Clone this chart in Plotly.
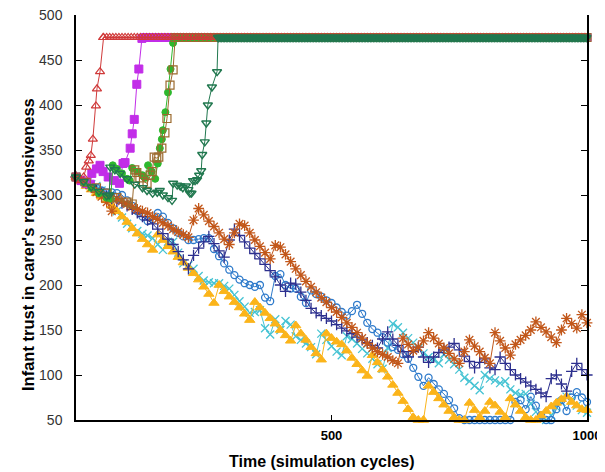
import plotly.graph_objects as go

# ---------------- data ----------------
PLATEAU = 475
X_STEP10 = list(range(0, 1001, 10))

# rising series (x, y until they reach the plateau)
red_x = [0, 5, 10, 15, 20, 25, 29, 33, 39, 41, 47, 53]
red_y = [320, 318, 316, 320, 331, 338, 344, 362, 399, 418, 437, 475]

magenta_x = [0, 10, 20, 28, 31, 40, 47, 53, 63, 75, 85, 92, 96, 106, 110, 114, 119, 123, 129]
magenta_y = [320, 316, 313, 312, 324, 329, 333, 326, 320, 316, 313, 335, 336, 352, 368, 384, 423, 440, 474]

green_x = [0, 15, 30, 45, 60, 68, 72, 80, 90, 100, 105, 110, 120, 130, 135, 141, 148, 155, 160, 164, 168, 170, 175, 180, 185, 190, 193]
green_y = [320, 314, 308, 302, 297, 296, 333, 329, 324, 318, 316, 330, 326, 322, 319, 333, 326, 318, 335, 352, 362, 372, 392, 414, 440, 469, 475]

brown_x = [0, 20, 40, 60, 80, 100, 110, 115, 119, 125, 132, 139, 145, 149, 153, 158, 162, 168, 174, 178, 184, 190, 194]
brown_y = [320, 314, 308, 302, 297, 292, 290, 328, 325, 319, 315, 313, 322, 326, 342, 341, 342, 352, 369, 385, 422, 439, 475]

dgreen_x = [0, 15, 30, 45, 60, 65, 67, 76, 86, 100, 115, 130, 139, 150, 159, 164, 170, 180, 188, 190, 198, 204, 209, 215, 220, 223, 226, 229, 233, 237, 241, 245, 247, 252, 255, 258, 266, 276, 278]
dgreen_y = [320, 315, 309, 304, 299, 300, 331, 328, 324, 318, 312, 308, 305, 302, 303, 305, 300, 297, 294, 313, 311, 310, 308, 310, 306, 302, 302, 316, 316, 317, 322, 327, 345, 359, 380, 400, 420, 437, 475]

# declining series, sampled every 10 cycles
orange_y = [320, 316, 312, 308, 303, 298, 292, 282, 296, 293, 290, 287, 284, 282, 280, 276, 273, 269, 266, 262,
            259, 256, 253, 272, 285, 278, 271, 265, 258, 251, 245, 258, 268, 266, 258, 250, 243, 236, 229, 244,
            242, 234, 226, 218, 211, 204, 198, 192, 186, 181, 175, 170, 164, 158, 153, 147, 141, 135, 130, 126,
            123, 120, 116, 113, 141, 134, 127, 131, 138, 147, 141, 135, 130, 124, 118, 113, 126, 139, 132, 126,
            119, 113, 147, 138, 130, 122, 134, 139, 144, 150, 159, 153, 148, 142, 136, 150, 163, 157, 152, 167, 158]

navy_y = [320, 316, 313, 309, 305, 302, 299, 296, 293, 291, 288, 284, 280, 276, 272, 268, 262, 257, 251, 245,
          237, 228, 218, 233, 241, 248, 254, 246, 238, 231, 250, 262, 255, 248, 241, 235, 229, 223, 216, 209,
          200, 193, 202, 201, 192, 183, 174, 169, 166, 163, 160, 156, 152, 149, 146, 142, 139, 136, 133, 130,
          140, 148, 140, 133, 126, 120, 126, 131, 120, 114, 120, 125, 128, 131, 135, 128, 121, 115, 108, 114,
          118, 108, 106, 120, 113, 106, 100, 96, 92, 88, 84, 80, 76, 96, 100, 90, 82, 104, 113, 106, 100]

blue_y = [320, 317, 314, 311, 308, 305, 303, 303, 302, 300, 294, 288, 282, 276, 271, 273, 280, 276, 269, 263,
          258, 254, 250, 250, 251, 252, 252, 240, 232, 224, 217, 211, 206, 202, 200, 198, 200, 186, 182, 210,
          212, 200, 196, 196, 187, 180, 194, 190, 187, 183, 180, 175, 170, 166, 171, 178, 168, 158, 151, 147,
          142, 136, 131, 128, 123, 118, 108, 98, 88, 97, 90, 84, 79, 72, 63, 52, 50, 50, 50, 50,
          50, 50, 50, 50, 50, 50, 70, 72, 62, 76, 66, 55, 50, 50, 62, 72, 60, 75, 81, 75, 70]

cyan_y = [320, 316, 314, 312, 310, 305, 298, 290, 282, 275, 268, 263, 260, 257, 255, 252, 245, 239, 248, 248,
          236, 224, 222, 218, 210, 205, 203, 202, 202, 199, 196, 189, 182, 176, 169, 170, 172, 152, 145, 162,
          150, 160, 156, 143, 139, 135, 131, 123, 146, 139, 132, 126, 122, 143, 140, 135, 129, 124, 118, 112,
          107, 130, 157, 153, 147, 141, 136, 130, 124, 120, 117, 113, 123, 117, 112, 106, 97, 93, 88, 83,
          100, 96, 94, 91, 93, 84, 80, 78, 79, 68, 59, 52, 50, 55, 64, 70, 76, 72, 66, 61, 58]

amber_y = [320, 315, 310, 306, 302, 298, 294, 288, 282, 276, 270, 263, 257, 251, 245, 239, 256, 250, 243, 237,
           231, 225, 219, 213, 206, 198, 190, 180, 200, 193, 187, 181, 175, 168, 161, 181, 175, 169, 163, 157,
           150, 144, 138, 155, 146, 139, 131, 124, 117, 146, 141, 137, 134, 127, 119, 112, 105, 99, 122, 114,
           106, 98, 89, 80, 71, 62, 53, 50, 50, 88, 81, 74, 67, 60, 53, 50, 50, 69, 61, 53,
           60, 70, 66, 59, 53, 74, 67, 60, 53, 50, 50, 55, 60, 65, 69, 73, 76, 70, 66, 62, 61]

X_TICKS = [500, 1000]
Y_TICKS = [50, 100, 150, 200, 250, 300, 350, 400, 450, 500]
X_TITLE = "Time (simulation cycles)"
Y_TITLE = "Infant trust in carer's responsiveness"

# the page body adds an 8 px offset; size the figure so the plot box
# lands at page pixels left 76, right 587, top 15, bottom 420
OFF = 8
W, H = 605 - OFF, 472 - OFF
ML, MR, MT, MB = 76 - OFF, 18, 15 - OFF, 52
PW, PH = W - ML - MR, H - MT - MB


def with_plateau(xs, ys, step):
    start = xs[-1]
    px = [v for v in range(0, 1001, step) if v > start]
    return xs + px, ys + [PLATEAU] * len(px)


fig = go.Figure()


def add(xs, ys, color, symbol, size=7, lw=1):
    fig.add_trace(go.Scatter(
        x=xs, y=ys, mode="lines+markers", cliponaxis=False,
        line=dict(color=color, width=1),
        marker=dict(symbol=symbol, size=size, color=color,
                    line=dict(color=color, width=lw)),
        showlegend=False, hoverinfo="skip"))


# declining series
add(X_STEP10, cyan_y, "#45C3D3", "x-thin-open", 8, 1.3)
add(X_STEP10, blue_y, "#2F7BCB", "circle-open", 7, 1.3)
add(X_STEP10, amber_y, "#FBB41A", "triangle-up", 9, 1)
add(X_STEP10, navy_y, "#2C2F8E", "cross-thin-open", 8, 1.3)
add(X_STEP10, orange_y, "#C2571A", "asterisk-open", 9, 1.3)

# rising series
mx, my = with_plateau(magenta_x, magenta_y, 8)
add(mx, my, "#C22DE8", "square", 8, 1)
gx, gy = with_plateau(green_x, green_y, 8)
add(gx, gy, "#2DB82D", "circle", 7, 1)
bx, by = with_plateau(brown_x, brown_y, 8)
add(bx, by, "#9C6A2E", "square-open", 8, 1.2)
rx, ry = with_plateau(red_x, red_y, 6)
add(rx, ry, "#D03A3A", "triangle-up-open", 8, 1.2)
dx, dy = with_plateau(dgreen_x, dgreen_y, 3)
add(dx, dy, "#21784F", "triangle-down-open", 8, 1.4)


def px_x(page_x):
    return (page_x - OFF - ML) / PW


def px_y(page_y):
    return (H - MB - (page_y - OFF)) / PH


fig.update_layout(
    width=W, height=H,
    margin=dict(l=ML, r=MR, t=MT, b=MB),
    paper_bgcolor="white", plot_bgcolor="white",
    xaxis=dict(range=[0, 1000], tickvals=X_TICKS, automargin=False,
               ticktext=["<b>%d</b>" % v for v in X_TICKS],
               ticks="inside", ticklen=5, tickcolor="black",
               ticklabeloverflow="allow", ticklabelstandoff=3,
               showline=True, linecolor="black", linewidth=1.5,
               showgrid=False, zeroline=False,
               tickfont=dict(family="Arial", size=13, color="black")),
    yaxis=dict(range=[50, 500], tickvals=Y_TICKS, automargin=False,
               ticks="inside", ticklen=6, tickcolor="black",
               ticklabeloverflow="allow", ticklabelstandoff=9,
               showline=True, linecolor="black", linewidth=1.5, mirror="ticks",
               showgrid=False, zeroline=False,
               tickfont=dict(family="Arial", size=14, color="#333333")),
    annotations=[
        dict(text="<b>" + X_TITLE + "</b>", xref="paper", yref="paper",
             x=px_x(322), xanchor="center", y=px_y(461), yanchor="middle",
             showarrow=False, font=dict(family="Arial", size=16, color="black")),
        dict(text="<b>" + Y_TITLE + "</b>", xref="paper", yref="paper",
             x=px_x(28), xanchor="center", y=px_y(245), yanchor="middle",
             textangle=-90, showarrow=False,
             font=dict(family="Arial", size=16.5, color="black")),
    ],
)

fig.write_html("out.html")
